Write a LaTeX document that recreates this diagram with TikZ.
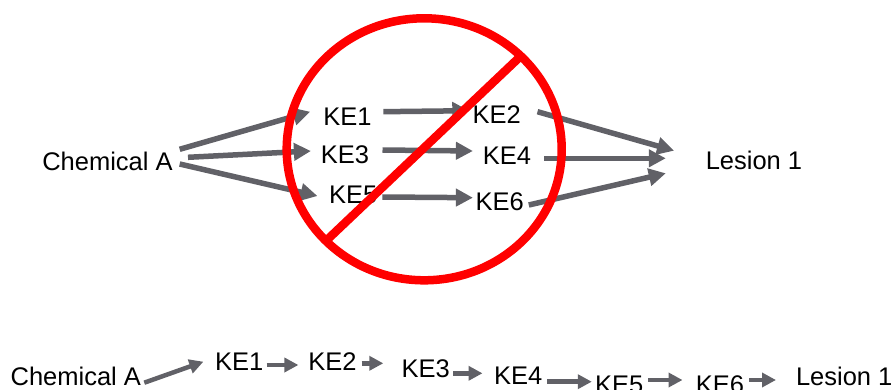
\documentclass[tikz,border=0pt]{standalone}
\usepackage{fontspec}
\setmainfont{Liberation Sans}
\usetikzlibrary{arrows.meta,shapes.geometric}
\definecolor{arrgray}{RGB}{97,97,103}
\definecolor{banred}{RGB}{255,0,0}
\tikzset{
  lbl/.style={inner sep=0pt, outer sep=0pt, font=\fontsize{25.5}{30}\selectfont},
  arr/.style={draw=arrgray, line width=5.5pt, -{Triangle[length=17pt,width=17pt]}},
  arrs/.style={draw=arrgray, line width=4.5pt, -{Triangle[length=14pt,width=14pt]}},
  banline/.style={draw=banred, line width=8.5pt}
}
\begin{document}
\begin{tikzpicture}[x=1pt,y=-1pt]
\useasboundingbox (0,0) rectangle (894,390);
\clip (0,0) rectangle (894,390);

% top network
\node[lbl] (chem) at (107.5,161.7) {Chemical A};
\node[lbl] (ke1) at (347.5,116.7) {KE1};
\node[lbl] (ke3) at (345,155) {KE3};
\node[lbl] (ke5) at (353.3,195) {KE5};
\node[lbl] (ke2) at (496.7,115) {KE2};
\node[lbl] (ke4) at (507,155.5) {KE4};
\node[lbl] (ke6) at (499.7,201.7) {KE6};
\node[lbl] (les) at (754,160) {Lesion 1};

\draw[arr] ([shift={(7,-12.4)}]chem.east) -- ([shift={(-13.3,-5)}]ke1.west);
\draw[arr] ([shift={(15.3,-4.4)}]chem.east) -- ([shift={(-10,-4)}]ke3.west);
\draw[arr] ([shift={(7,2.3)}]chem.east) -- ([shift={(-11.7,1)}]ke5.west);
\draw[arr] ([shift={(11.7,-5)}]ke1.east) -- ([shift={(-3.3,-4.3)}]ke2.west);
\draw[arr] ([shift={(13.4,-5)}]ke3.east) -- ([shift={(-10,-4.5)}]ke4.west);
\draw[arr] ([shift={(5,2)}]ke5.east) -- ([shift={(-2.7,-4)}]ke6.west);
\draw[arr] ([shift={(16.7,-3.3)}]ke2.east) -- ([shift={(-31.7,-9.3)}]les.west);
\draw[arr] ([shift={(13.3,2.8)}]ke4.east) -- ([shift={(-40,-1.7)}]les.west);
\draw[arr] ([shift={(5,3.3)}]ke6.east) -- ([shift={(-40,13.3)}]les.west);

% prohibition sign
\node[ellipse, banline, minimum width=275pt, minimum height=262pt, inner sep=0pt, outer sep=0pt] (ban) at (424.2,149.3) {};
\draw[banline] (ban.223.5) -- (ban.44);

% bottom linear chain
\node[lbl] (chemb) at (75.8,376.8) {Chemical A};
\node[lbl] (ke1b) at (239.2,362) {KE1};
\node[lbl] (ke2b) at (332.5,362) {KE2};
\node[lbl] (ke3b) at (425.8,369) {KE3};
\node[lbl] (ke4b) at (518.3,376) {KE4};
\node[lbl] (ke5b) at (619.2,385) {KE5};
\node[lbl] (ke6b) at (720,385) {KE6};
\node[lbl] (lesb) at (844.2,376) {Lesion 1};

\draw[arrs] ([shift={(3.3,5.9)}]chemb.east) -- ([shift={(-11.7,-0.3)}]ke1b.west);
\draw[arrs] ([shift={(3.4,3)}]ke1b.east) -- ([shift={(-10,3)}]ke2b.west);
\draw[arrs] ([shift={(5,1.3)}]ke2b.east) -- ([shift={(-18.4,-5.7)}]ke3b.west);
\draw[arrs] ([shift={(3.3,4.3)}]ke3b.east) -- ([shift={(-11.7,-2.7)}]ke4b.west);
\draw[arrs] ([shift={(5,5.7)}]ke4b.east) -- ([shift={(-3.3,-3.3)}]ke5b.west);
\draw[arrs] ([shift={(5,-5)}]ke5b.east) -- ([shift={(-13.4,-5)}]ke6b.west);
\draw[arrs] ([shift={(5,-5)}]ke6b.east) -- ([shift={(-20,4)}]lesb.west);
\end{tikzpicture}
\end{document}
